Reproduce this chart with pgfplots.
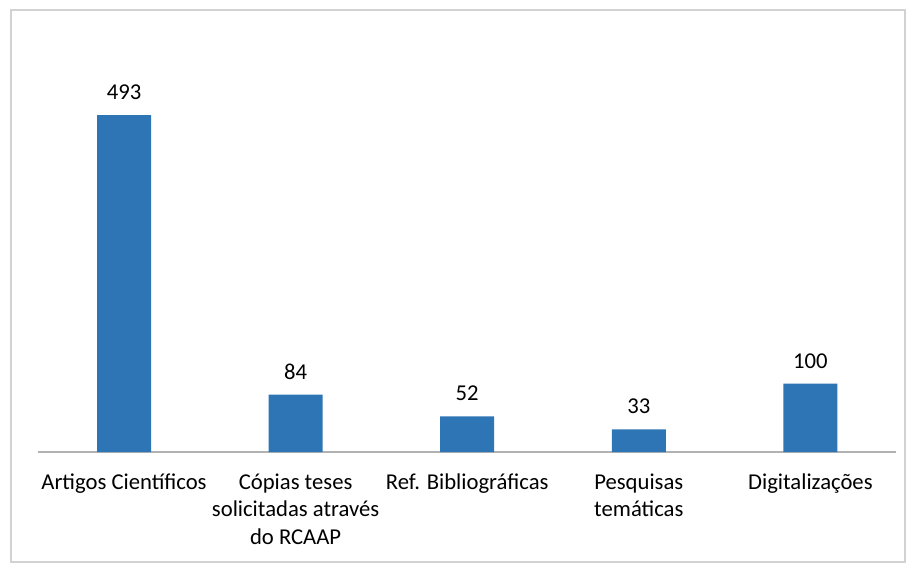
\documentclass[border=0pt]{standalone}
\usepackage{pgfplots}
\pgfplotsset{compat=1.18}
\usepackage{fontspec}
\setmainfont{Carlito}
\definecolor{barblue}{RGB}{46,117,182}
\begin{document}
\begin{tikzpicture}[x=0.75pt,y=0.75pt]
\path[use as bounding box] (0,0) rectangle (915,565);
\draw[gray!35,line width=0.8pt] (11,3) rectangle (905,555);
\begin{axis}[
    at={(93pt,84.75pt)},
    anchor=origin,
    scale only axis,
    width=643.5pt,
    height=307.5pt,
    xmin=-0.5, xmax=4.5,
    ymin=0, ymax=600,
    axis x line*=bottom,
    axis y line=none,
    x axis line style={gray!60,line width=0.8pt,-},
    xtick={0,1,2,3,4},
    xticklabels={Artigos Científicos,Cópias teses\\solicitadas através\\do RCAAP,Ref. Bibliográficas,Pesquisas\\temáticas,Digitalizações},
    major tick length=0pt,
    xticklabel style={align=center,font=\fontsize{17}{20.5}\selectfont,yshift=-13pt},
    /pgf/number format/assume math mode=true,
    ybar,
    bar width=40.5pt,
    nodes near coords,
    every node near coord/.append style={font=\fontsize{17}{19}\selectfont,text=black,yshift=8pt},
]
\addplot[fill=barblue,draw=none] coordinates {(0,493) (1,84) (2,52) (3,33) (4,100)};
\end{axis}
\end{tikzpicture}
\end{document}
